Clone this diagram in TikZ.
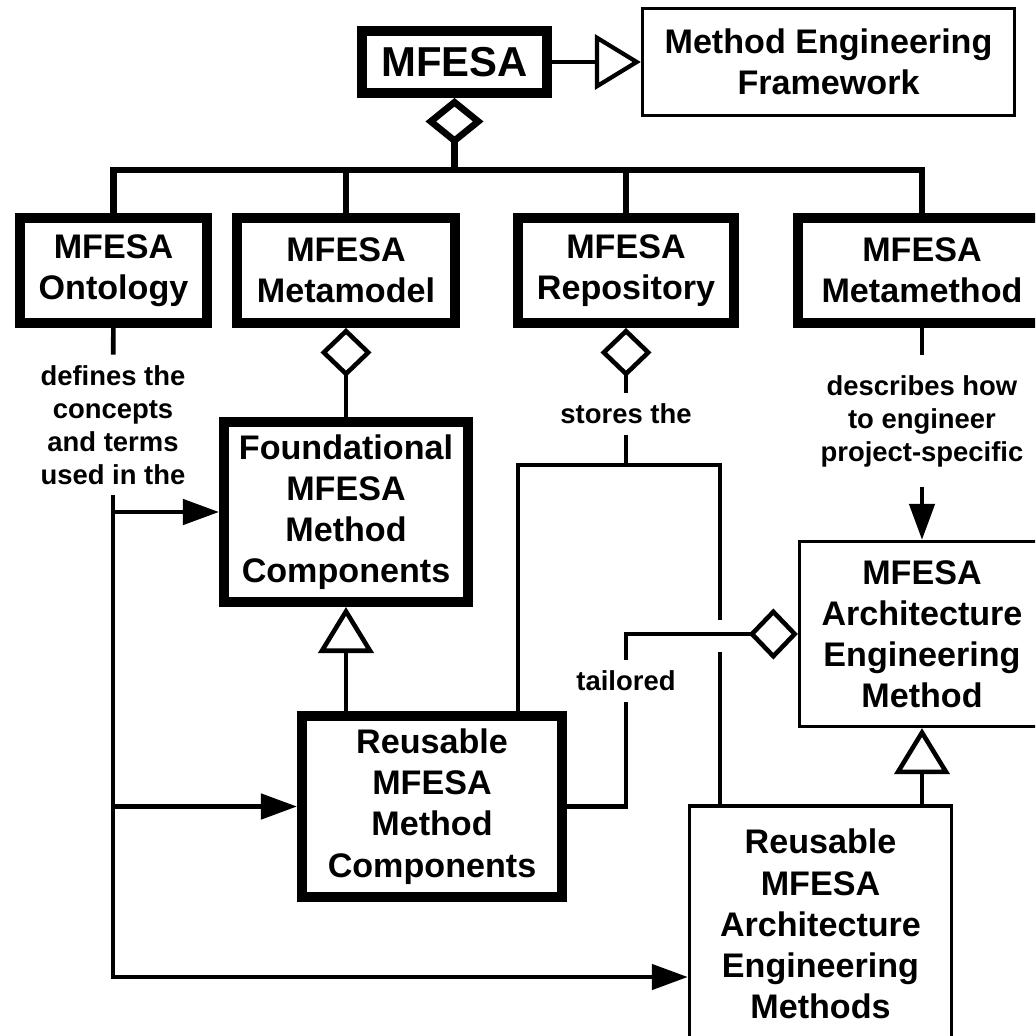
\documentclass[tikz,border=0pt]{standalone}
\usepackage{fontspec}
\setmainfont{Liberation Sans}
\usetikzlibrary{arrows.meta,calc}

\begin{document}
\begin{tikzpicture}[x=0.01cm, y=-0.01cm,
  bigbox/.style={draw, line width=2.8pt, align=center, inner sep=0pt, font=\fontsize{9.7}{11.7}\selectfont\bfseries},
  thinbox/.style={draw, line width=0.9pt, align=center, inner sep=0pt, font=\fontsize{9.7}{11.7}\selectfont\bfseries},
  note/.style={align=center, inner xsep=0pt, inner ysep=0.1cm, font=\fontsize{7.8}{9.4}\selectfont\bfseries},
  link/.style={line width=1.3pt},
  bus/.style={line width=1.9pt},
  agg/.style={-{Diamond[open,length=0.49cm,width=0.51cm]}},
  topagg/.style={-{Diamond[open,length=0.47cm,width=0.58cm]}},
  gen/.style={-{Triangle[open,length=0.46cm,width=0.55cm]}},
  uses/.style={-{Triangle[length=0.36cm,width=0.25cm]}}]
  \useasboundingbox (0,0) rectangle (1035,1036);
  \clip (0,0) rectangle (1035,1036);
  %\draw[help lines] (0,0) grid (1035,1036);

  \node[bigbox, minimum width=1.85cm, minimum height=0.62cm, font=\fontsize{11.9}{14}\selectfont\bfseries] (mfesa) at (454.5,62) {MFESA};
  \node[thinbox, minimum width=3.72cm, minimum height=1.07cm] (framework) at (828.5,62) {Method Engineering\\Framework};

  \node[bigbox, minimum width=1.87cm, minimum height=1.05cm] (ontology) at (113.5,270.5) {MFESA\\Ontology};
  \node[bigbox, minimum width=2.18cm, minimum height=1.05cm] (metamodel) at (346,270.5) {MFESA\\Metamodel};
  \node[bigbox, minimum width=2.16cm, minimum height=1.05cm] (repository) at (626,270.5) {MFESA\\Repository};
  \node[bigbox, minimum width=2.48cm, minimum height=1.05cm] (metamethod) at (922,270.5) {MFESA\\Metamethod};

  \node[bigbox, minimum width=2.44cm, minimum height=1.80cm] (foundational) at (346,512) {Foundational\\MFESA\\Method\\Components};
  \node[bigbox, minimum width=2.60cm, minimum height=1.81cm] (reusecomp) at (432,806.5) {Reusable\\MFESA\\Method\\Components};
  \node[thinbox, minimum width=2.45cm, minimum height=1.85cm] (archmethod) at (922,634) {MFESA\\Architecture\\Engineering\\Method};
  \node[thinbox, minimum width=2.62cm, minimum height=2.36cm] (reusearch) at (820.5,924) {Reusable\\MFESA\\Architecture\\Engineering\\Methods};

  \node[note] (defines) at (113,425) {defines the\\concepts\\and terms\\used in the};
  \node[note] (stores) at (626,414) {stores the};
  \node[note, inner ysep=0.19cm] (describes) at (922,421) {describes how\\to engineer\\project-specific};
  \node[note] (tailored) at (626,681) {tailored};

  \coordinate (hub) at (454.5,170);
  \coordinate (sleft) at (518,465);
  \coordinate (sright) at (720,465);
  \coordinate (hoptop) at (720,620);
  \coordinate (hopbottom) at (720,652);
  \coordinate (ontend) at (113,977);

  \draw[bus] (ontology.north) |- (hub) -| (metamethod.north);
  \draw[bus] (metamodel.north) -- (metamodel.north |- hub);
  \draw[bus] (repository.north) -- (repository.north |- hub);
  \draw[bus, topagg] (hub) -- (mfesa.south);
  \draw[line width=1.2pt, gen] (mfesa) -- (framework);

  \draw[link, agg] (foundational) -- (metamodel);
  \draw[link, gen] (foundational.south |- reusecomp.north) -- (foundational.south);

  \draw[link, agg] (stores) -- (repository);
  \draw[link] (stores) -- (stores |- sleft);
  \draw[link] (reusecomp.north -| sleft) -- (sleft) -- (sright) -- (hoptop);
  \draw[link] (hopbottom) -- (reusearch.north -| hopbottom);

  \draw[link] (reusecomp.east) -| (tailored.south);
  \draw[link, agg] (tailored.north) |- (archmethod.west);

  \draw[link] (metamethod) -- (describes);
  \draw[link, uses] (describes) -- (archmethod);
  \draw[link, gen] (archmethod.south |- reusearch.north) -- (archmethod.south);

  \draw[link] (ontology) -- (defines);
  \draw[link, uses] (defines.south) |- (reusearch.west |- ontend);
  \draw[link, uses] (defines.south |- foundational.west) -- (foundational.west);
  \draw[link, uses] (defines.south |- reusecomp.west) -- (reusecomp.west);
\end{tikzpicture}
\end{document}
